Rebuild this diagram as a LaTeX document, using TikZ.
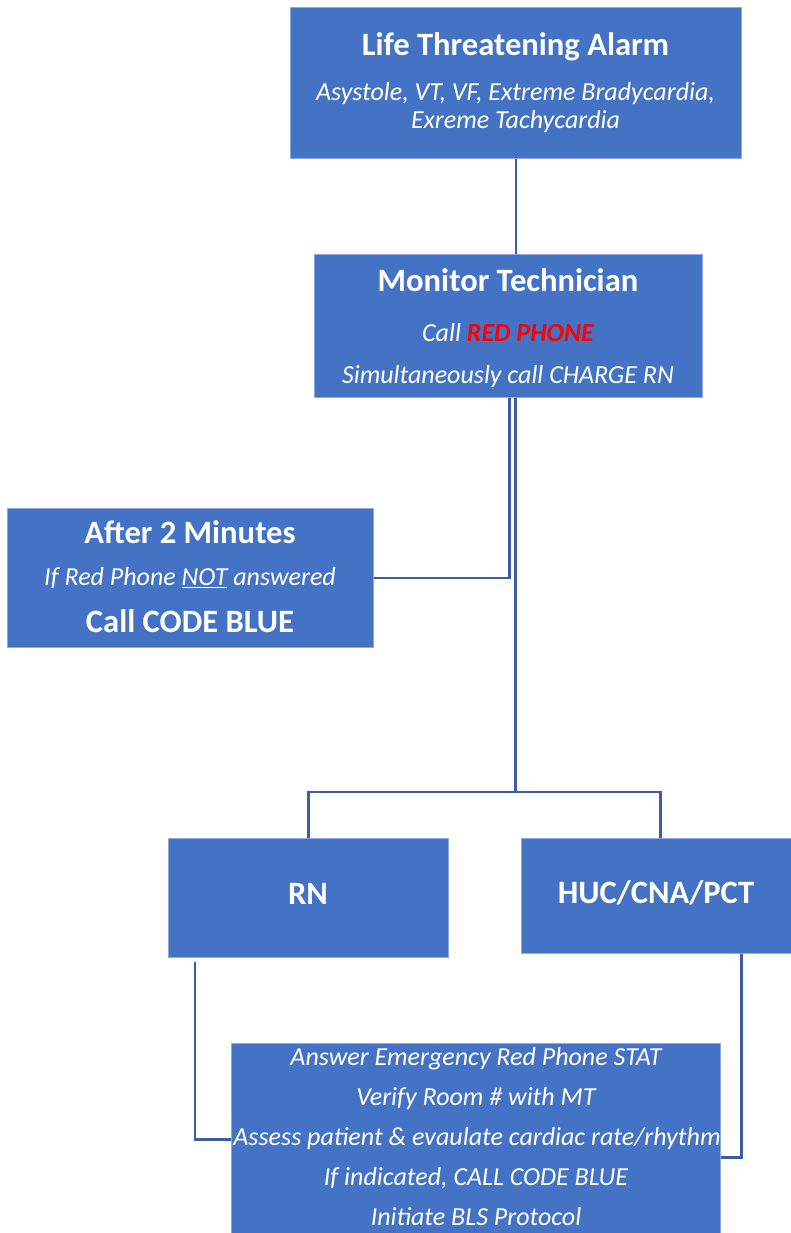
\documentclass[tikz,border=0pt]{standalone}
\usepackage{fontspec}
\setmainfont{Carlito}
\usetikzlibrary{calc}
\definecolor{boxblue}{HTML}{4472C4}
\definecolor{boxedge}{HTML}{8EA9DB}
\definecolor{linkblue}{HTML}{3A5DA5}
\definecolor{alertred}{HTML}{FF0000}
\tikzset{
  flowbox/.style={fill=boxblue, draw=boxedge, line width=0.6pt, inner sep=0pt, anchor=north west},
  headtxt/.style={text=white, font=\bfseries\fontsize{32.6}{38}\selectfont, inner sep=0pt},
  itxt/.style={text=white, font=\itshape\fontsize{26}{31}\selectfont, inner sep=0pt},
  link/.style={draw=linkblue, line width=2.4pt}
}
\begin{document}
\begin{tikzpicture}[x=1pt,y=-1pt]
\useasboundingbox (0,0) rectangle (791,1233);

% boxes
\node[flowbox, minimum width=451pt, minimum height=151pt] (alarm) at (290,7) {};
\node[flowbox, minimum width=388pt, minimum height=143pt] (mt) at (314,254) {};
\node[flowbox, minimum width=366pt, minimum height=139pt] (after) at (7,508) {};
\node[flowbox, minimum width=280pt, minimum height=119pt] (rn) at (168,838) {};
\node[flowbox, minimum width=272pt, minimum height=115pt] (huc) at (521,838) {};
\node[flowbox, minimum width=489pt, minimum height=192pt] (steps) at (231,1043) {};

% box texts
\node[headtxt] (alarmT) at (515.5,47) {Life Threatening Alarm};
\node[itxt] (alarmA) at (515.5,94) {Asystole, VT, VF, Extreme Bradycardia,};
\node[itxt] (alarmB) at (515.5,122) {Exreme Tachycardia};

\node[headtxt] (mtT) at (508,280) {Monitor Technician};
\node[itxt] (mtA) at (508,333) {Call \textcolor{alertred}{\bfseries RED PHONE}};
\node[itxt] (mtB) at (508,377) {Simultaneously call CHARGE RN};

\node[headtxt] (afterT) at (190,532) {After 2 Minutes};
\node[itxt] (afterA) at (190,578) {If Red Phone \underline{NOT} answered};
\node[headtxt] (afterB) at (190,621) {Call CODE BLUE};

\node[headtxt] (rnT) at (308,894) {RN};
\node[headtxt] (hucT) at (656,893) {HUC/CNA/PCT};

\node[itxt] (s1) at (476,1059) {Answer Emergency Red Phone STAT};
\node[itxt] (s2) at (476,1099) {Verify Room \# with MT};
\node[itxt] (s3) at (477,1139) {Assess patient \& evaulate cardiac rate/rhythm};
\node[itxt] (s4) at (476,1178) {If indicated, CALL CODE BLUE};
\node[itxt] (s5) at (476,1217) {Initiate BLS Protocol};

% connectors
\draw[link] (alarm.south) -- (alarm.south |- mt.north);
\draw[link] ([xshift=1pt]mt.south) |- (after.east);
\coordinate (split) at ([xshift=7pt]mt.south |- 0,792);
\draw[link] ([xshift=7pt]mt.south) -- (split);
\draw[link] (split) -| (rn.north);
\draw[link] (split) -| ([xshift=3pt]huc.north);
\draw[link] ([xshift=27pt,yshift=-4pt]rn.south west) |- (steps.west);
\draw[link] ([xshift=-52pt]huc.south east) |- ([yshift=-18pt]steps.east);
\end{tikzpicture}
\end{document}
